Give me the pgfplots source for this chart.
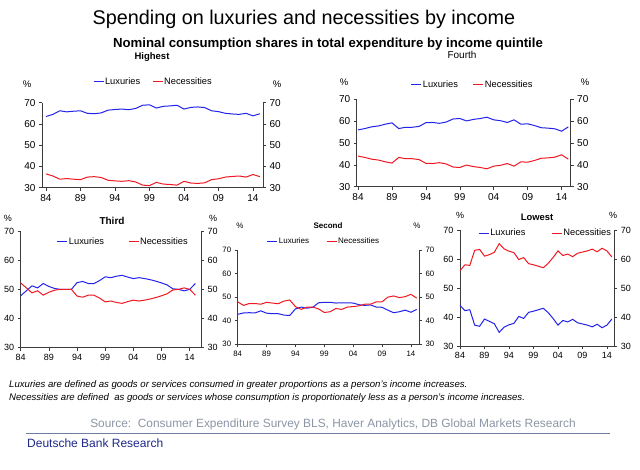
\documentclass[border=0pt]{standalone}
\usepackage{fontspec}
\setmainfont{Liberation Sans}
\usepackage{pgfplots}
\usepackage{pgfplotstable}
\pgfplotsset{compat=1.18}
\definecolor{lux}{RGB}{35,35,235}
\definecolor{nec}{RGB}{240,25,35}
\definecolor{axg}{RGB}{60,60,60}
\definecolor{srcg}{RGB}{140,150,165}
\definecolor{rulec}{RGB}{110,125,160}
\definecolor{dbnavy}{RGB}{30,40,140}

\pgfplotstableread{
year lux nec
1984 63.5 36.5
1985 64.5 35.5
1986 66.2 34.0
1987 65.7 34.3
1988 66.0 34.0
1989 66.2 33.8
1990 65.0 35.0
1991 64.8 35.2
1992 65.2 34.8
1993 66.5 33.5
1994 66.8 33.2
1995 67.0 33.0
1996 66.7 33.3
1997 67.3 32.7
1998 68.8 31.2
1999 69.0 31.0
2000 67.5 32.5
2001 68.3 31.7
2002 68.5 31.5
2003 68.8 31.2
2004 67.0 33.0
2005 67.8 32.2
2006 68.0 32.0
2007 67.7 32.3
2008 66.2 33.8
2009 65.8 34.2
2010 65.0 35.0
2011 64.7 35.3
2012 64.5 35.5
2013 65.0 35.0
2014 63.8 36.2
2015 64.8 35.2
}\thigh

\pgfplotstableread{
year lux nec
1984 56.0 44.0
1985 56.6 43.4
1986 57.4 42.6
1987 57.8 42.2
1988 58.6 41.4
1989 59.2 40.8
1990 56.6 43.4
1991 57.2 42.8
1992 57.2 42.8
1993 57.6 42.4
1994 59.3 40.7
1995 59.4 40.6
1996 59.0 41.0
1997 59.6 40.4
1998 61.0 39.0
1999 61.2 38.8
2000 60.1 39.9
2001 60.8 39.2
2002 61.2 38.8
2003 61.8 38.2
2004 60.6 39.4
2005 60.2 39.8
2006 59.4 40.6
2007 60.6 39.4
2008 58.6 41.4
2009 58.8 41.2
2010 58.0 42.0
2011 57.0 43.0
2012 56.8 43.2
2013 56.5 43.5
2014 55.4 44.6
2015 57.4 42.6
}\tfourth

\pgfplotstableread{
year lux nec
1984 47.8 52.2
1985 49.5 50.5
1986 51.2 48.8
1987 50.5 49.5
1988 52.0 48.0
1989 51.0 49.0
1990 50.3 49.7
1991 50.0 50.0
1992 50.0 50.0
1993 50.0 50.0
1994 52.3 47.7
1995 52.7 47.3
1996 52.0 48.0
1997 52.0 48.0
1998 53.0 47.0
1999 54.3 45.7
2000 54.0 46.0
2001 54.5 45.5
2002 54.8 45.2
2003 54.2 45.8
2004 53.7 46.3
2005 54.0 46.0
2006 53.7 46.3
2007 53.3 46.7
2008 52.8 47.2
2009 52.2 47.8
2010 51.5 48.5
2011 50.2 49.8
2012 50.0 50.0
2013 49.5 50.5
2014 50.0 50.0
2015 52.0 48.0
}\tthird

\pgfplotstableread{
year lux nec
1984 42.7 48.0
1985 43.3 46.5
1986 43.4 47.3
1987 43.3 47.3
1988 44.2 47.0
1989 43.2 47.8
1990 43.0 47.5
1991 43.0 47.2
1992 42.4 48.3
1993 42.2 48.8
1994 45.0 46.0
1995 45.8 44.8
1996 45.3 45.8
1997 45.7 45.8
1998 47.6 45.0
1999 47.8 43.5
2000 47.8 43.8
2001 47.5 45.2
2002 47.6 44.8
2003 47.6 45.8
2004 47.5 46.0
2005 46.8 46.3
2006 46.5 47.0
2007 46.7 47.0
2008 45.8 48.0
2009 45.7 48.0
2010 44.5 50.0
2011 43.4 50.5
2012 43.8 49.8
2013 44.5 50.2
2014 43.6 51.2
2015 44.8 49.6
}\tsecond

\pgfplotstableread{
year lux nec
1984 44.0 56.0
1985 42.2 58.0
1986 42.5 57.8
1987 37.2 63.0
1988 36.8 63.3
1989 39.3 61.0
1990 38.5 61.5
1991 37.7 62.3
1992 34.7 65.3
1993 36.5 63.5
1994 37.3 62.7
1995 37.8 62.2
1996 40.2 59.8
1997 39.5 60.5
1998 41.6 58.4
1999 42.0 58.0
2000 42.5 57.5
2001 43.0 57.0
2002 41.5 58.5
2003 39.5 60.5
2004 37.2 62.8
2005 38.8 61.2
2006 38.3 61.7
2007 39.2 60.8
2008 38.0 62.0
2009 37.6 62.4
2010 37.2 62.8
2011 36.6 63.4
2012 37.5 62.5
2013 36.3 63.7
2014 37.2 62.8
2015 39.3 60.7
}\tlowest

\pgfplotsset{
  base/.style={scale only axis, anchor=south west, ymin=30, ymax=70,
    ytick={30,40,50,60,70}, tick align=outside,
    axis line style={draw=axg, line width=0.7pt},
    major tick style={draw=axg, line width=0.6pt}, major tick length=3pt,
    /pgf/number format/assume math mode=true, clip=false},
  main/.style={base, axis x line*=bottom, axis y line*=left,
    xtick={1984,1989,1994,1999,2004,2009,2014},
    xticklabels={84,89,94,99,04,09,14},
    legend image code/.code={\draw[##1] (0pt,0pt) -- (10pt,0pt);},
    legend columns=2,
    legend style={draw=none, fill=none, inner sep=0pt, nodes={inner sep=1pt}}},
  rightax/.style={base, axis x line=none, axis y line*=right},
  lx/.style={color=lux, line width=1pt},
  nx/.style={color=nec, line width=1pt},
}

\begin{document}
\begin{tikzpicture}
\path[use as bounding box, fill=white] (0pt,0pt) rectangle (640pt,-470pt);

% ---- titles ----
\node[font=\fontsize{19.8}{22}\selectfont] at (304pt,-19pt) {Spending on luxuries and necessities by income};
\node[font=\bfseries\fontsize{13.2}{15}\selectfont] at (328pt,-44pt) {Nominal consumption shares in total expenditure by income quintile};

% ---- Highest ----
\begin{axis}[main, at={(42pt,-187.7pt)}, width=221pt, height=85pt,
  xmin=1983.42, xmax=2015.45,
  tick label style={font=\fontsize{10}{11}\selectfont},
  legend style={at={(0.23,1.247)}, anchor=west, font=\fontsize{9.3}{11}\selectfont,
    /tikz/every even column/.append style={column sep=11pt}}]
\addplot[lx] table[x=year,y=lux]{\thigh};
\addplot[nx] table[x=year,y=nec]{\thigh};
\legend{Luxuries,Necessities}
\end{axis}
\begin{axis}[rightax, at={(42pt,-187.7pt)}, width=221pt, height=85pt,
  xmin=1983.42, xmax=2015.45, tick label style={font=\fontsize{10}{11}\selectfont}]
\addplot[draw=none] coordinates {(1990,50)};
\end{axis}
\node[font=\bfseries\fontsize{9.5}{11}\selectfont] at (152pt,-57pt) {Highest};
\node[font=\fontsize{9.5}{11}\selectfont] at (27pt,-84pt) {\%};
\node[font=\fontsize{9.5}{11}\selectfont] at (277pt,-84pt) {\%};

% ---- Fourth ----
\begin{axis}[main, at={(356.7pt,-186.7pt)}, width=214pt, height=87.4pt,
  xmin=1983.8, xmax=2015.35,
  tick label style={font=\fontsize{10}{11}\selectfont},
  legend style={at={(0.252,1.164)}, anchor=west, font=\fontsize{9.3}{11}\selectfont,
    /tikz/every even column/.append style={column sep=14pt}}]
\addplot[lx] table[x=year,y=lux]{\tfourth};
\addplot[nx] table[x=year,y=nec]{\tfourth};
\legend{Luxuries,Necessities}
\end{axis}
\begin{axis}[rightax, at={(356.7pt,-186.7pt)}, width=214pt, height=87.4pt,
  xmin=1983.8, xmax=2015.35, tick label style={font=\fontsize{10}{11}\selectfont}]
\addplot[draw=none] coordinates {(1990,50)};
\end{axis}
\node[font=\fontsize{10}{11}\selectfont] at (462pt,-55pt) {Fourth};
\node[font=\fontsize{9.5}{11}\selectfont] at (344pt,-82pt) {\%};
\node[font=\fontsize{9.5}{11}\selectfont] at (585pt,-82pt) {\%};

% ---- Third ----
\begin{axis}[main, at={(20.7pt,-347.7pt)}, width=180.3pt, height=116.7pt,
  xmin=1984, xmax=2016,
  tick label style={font=\fontsize{9}{10}\selectfont},
  legend style={at={(0.2,0.906)}, anchor=west, font=\fontsize{9.3}{11}\selectfont,
    /tikz/every even column/.append style={column sep=23pt}}]
\addplot[lx] table[x=year,y=lux]{\tthird};
\addplot[nx] table[x=year,y=nec]{\tthird};
\legend{Luxuries,Necessities}
\end{axis}
\begin{axis}[rightax, at={(20.7pt,-347.7pt)}, width=180.3pt, height=116.7pt,
  xmin=1984, xmax=2016, tick label style={font=\fontsize{9}{10}\selectfont}]
\addplot[draw=none] coordinates {(1990,50)};
\end{axis}
\node[font=\bfseries\fontsize{10}{11}\selectfont] at (112pt,-221pt) {Third};
\node[font=\fontsize{9}{10}\selectfont] at (8pt,-218pt) {\%};
\node[font=\fontsize{9}{10}\selectfont] at (213pt,-218pt) {\%};

% ---- Second ----
\begin{axis}[main, at={(237.7pt,-344.3pt)}, width=181.3pt, height=94.3pt,
  xmin=1984, xmax=2015.4,
  tick label style={font=\fontsize{7.8}{9}\selectfont},
  legend style={at={(0.16,1.088)}, anchor=west, font=\fontsize{8}{9}\selectfont,
    /tikz/every even column/.append style={column sep=16pt}}]
\addplot[lx] table[x=year,y=lux]{\tsecond};
\addplot[nx] table[x=year,y=nec]{\tsecond};
\legend{Luxuries,Necessities}
\end{axis}
\begin{axis}[rightax, at={(237.7pt,-344.3pt)}, width=181.3pt, height=94.3pt,
  xmin=1984, xmax=2015.4, tick label style={font=\fontsize{7.8}{9}\selectfont}]
\addplot[draw=none] coordinates {(1990,50)};
\end{axis}
\node[font=\bfseries\fontsize{8}{9}\selectfont] at (328pt,-226pt) {Second};
\node[font=\fontsize{8}{9}\selectfont] at (240pt,-226pt) {\%};
\node[font=\fontsize{8}{9}\selectfont] at (417pt,-226pt) {\%};

% ---- Lowest ----
\begin{axis}[main, at={(460pt,-346pt)}, width=154.3pt, height=116pt,
  xmin=1984, xmax=2015.5,
  tick label style={font=\fontsize{9}{10}\selectfont},
  legend style={at={(0.117,0.974)}, anchor=west, font=\fontsize{9.3}{11}\selectfont,
    /tikz/every even column/.append style={column sep=25pt}}]
\addplot[lx] table[x=year,y=lux]{\tlowest};
\addplot[nx] table[x=year,y=nec]{\tlowest};
\legend{Luxuries,Necessities}
\end{axis}
\begin{axis}[rightax, at={(460pt,-346pt)}, width=154.3pt, height=116pt,
  xmin=1984, xmax=2015.5, tick label style={font=\fontsize{9}{10}\selectfont}]
\addplot[draw=none] coordinates {(1990,50)};
\end{axis}
\node[font=\bfseries\fontsize{9.4}{11}\selectfont] at (537pt,-217pt) {Lowest};
\node[font=\fontsize{9}{10}\selectfont] at (460pt,-215pt) {\%};
\node[font=\fontsize{9}{10}\selectfont] at (613pt,-215pt) {\%};

% ---- notes ----
\node[anchor=west, font=\itshape\fontsize{9.6}{10}\selectfont, inner sep=0pt] at (9pt,-385pt) {Luxuries are defined as goods or services consumed in greater proportions as a person's income increases.};
\node[anchor=west, font=\itshape\fontsize{9.6}{10}\selectfont, inner sep=0pt] at (9pt,-398pt) {Necessities are defined\ \ as goods or services whose consumption is proportionately less as a person's income increases.};
\node[font=\fontsize{11.9}{13}\selectfont, text=srcg] at (333pt,-424pt) {Source:\ \ Consumer Expenditure Survey BLS, Haver Analytics, DB Global Markets Research};
\draw[rulec, line width=1pt] (26pt,-433pt) -- (610pt,-433pt);
\node[anchor=west, font=\fontsize{12}{13}\selectfont, text=dbnavy, inner sep=0pt] at (27pt,-443pt) {Deutsche Bank Research};
\end{tikzpicture}
\end{document}
